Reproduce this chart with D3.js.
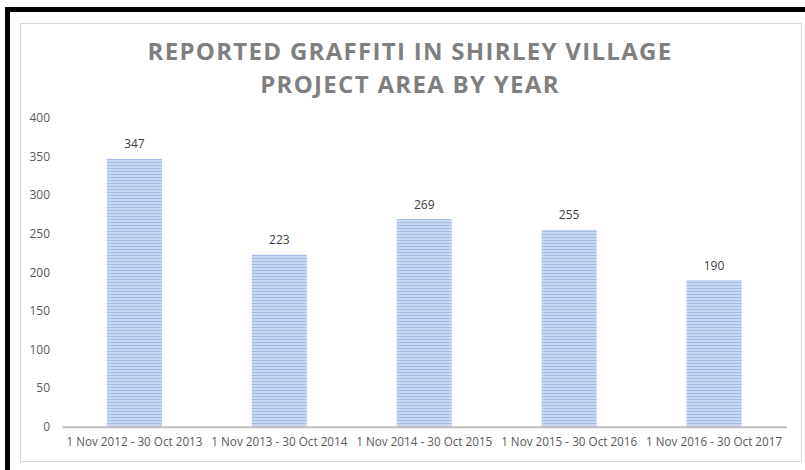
<!DOCTYPE html>
<html>
<head>
<meta charset="utf-8">
<script src="https://cdn.jsdelivr.net/npm/d3@7"></script>
<style>
  body { margin: 0; background: #fff; }
  svg { display: block; font-family: "Open Sans", "Liberation Sans", sans-serif; }
</style>
</head>
<body>
<div id="chart"></div>
<script>
// data
const periods = [
  '1 Nov 2012 - 30 Oct 2013',
  '1 Nov 2013 - 30 Oct 2014',
  '1 Nov 2014 - 30 Oct 2015',
  '1 Nov 2015 - 30 Oct 2016',
  '1 Nov 2016 - 30 Oct 2017'
];
const reports = [347, 223, 269, 255, 190];
const yTicks = [0, 50, 100, 150, 200, 250, 300, 350, 400];
const titleLines = ['REPORTED GRAFFITI IN SHIRLEY VILLAGE', 'PROJECT AREA BY YEAR'];

const width = 805;
const height = 470;

const svg = d3.select('#chart')
  .append('svg')
  .attr('width', width)
  .attr('height', height);

// striped fill for the bars
const defs = svg.append('defs');
const pat = defs.append('pattern')
  .attr('id', 'stripes')
  .attr('patternUnits', 'userSpaceOnUse')
  .attr('width', 8)
  .attr('height', 3);
pat.append('rect').attr('width', 8).attr('height', 3).attr('fill', '#c9d8f0');
pat.append('rect').attr('width', 8).attr('height', 1).attr('fill', '#a3bce3');

// outer black frame (top + left only) and light chart border
svg.append('rect')
  .attr('x', 20.5).attr('y', 23.5)
  .attr('width', 781).attr('height', 438)
  .attr('fill', '#fff')
  .attr('stroke', '#d9d9d9');
svg.append('line')
  .attr('x1', 5).attr('x2', width).attr('y1', 9.5).attr('y2', 9.5)
  .attr('stroke', '#000').attr('stroke-width', 5);
svg.append('line')
  .attr('x1', 7.5).attr('x2', 7.5).attr('y1', 7).attr('y2', height)
  .attr('stroke', '#000').attr('stroke-width', 5);

// title
svg.append('g')
  .selectAll('text')
  .data(titleLines)
  .join('text')
  .attr('x', 410)
  .attr('y', (d, i) => 60 + i * 33)
  .attr('text-anchor', 'middle')
  .attr('fill', '#7f7f7f')
  .attr('font-size', 24)
  .attr('font-weight', 'bold')
  .attr('letter-spacing', 1.3)
  .text(d => d);

const x = d3.scaleBand()
  .domain(periods)
  .range([62, 786.5])
  .paddingInner(0.62)
  .paddingOuter(0.31);

const y = d3.scaleLinear()
  .domain([0, 400])
  .range([426.7, 117.9]);

// y axis labels
const yAxis = svg.append('g')
  .attr('transform', 'translate(50,0)')
  .call(d3.axisLeft(y).tickValues(yTicks).tickSize(0).tickPadding(0));
yAxis.select('.domain').remove();
yAxis.selectAll('text')
  .attr('fill', '#595959')
  .attr('font-size', 12)
  .attr('font-family', '"Open Sans", sans-serif');

// bars
svg.append('g')
  .selectAll('rect')
  .data(reports)
  .join('rect')
  .attr('x', (d, i) => x(periods[i]))
  .attr('y', d => y(d))
  .attr('width', x.bandwidth())
  .attr('height', d => y(0) - y(d))
  .attr('fill', 'url(#stripes)');

// value labels
svg.append('g')
  .selectAll('text')
  .data(reports)
  .join('text')
  .attr('x', (d, i) => x(periods[i]) + x.bandwidth() / 2)
  .attr('y', d => y(d) - 10.5)
  .attr('text-anchor', 'middle')
  .attr('fill', '#404040')
  .attr('font-size', 12)
  .text(d => d);

// x axis
const xAxis = svg.append('g')
  .attr('transform', `translate(0,${y(0)})`)
  .call(d3.axisBottom(x).tickSize(0).tickPadding(11).tickSizeOuter(0));
xAxis.select('.domain')
  .attr('stroke', '#bfbfbf')
  .attr('stroke-width', 2);
xAxis.selectAll('text')
  .attr('fill', '#595959')
  .attr('font-size', 11.7)
  .attr('font-family', '"Open Sans", sans-serif');
</script>
</body>
</html>
